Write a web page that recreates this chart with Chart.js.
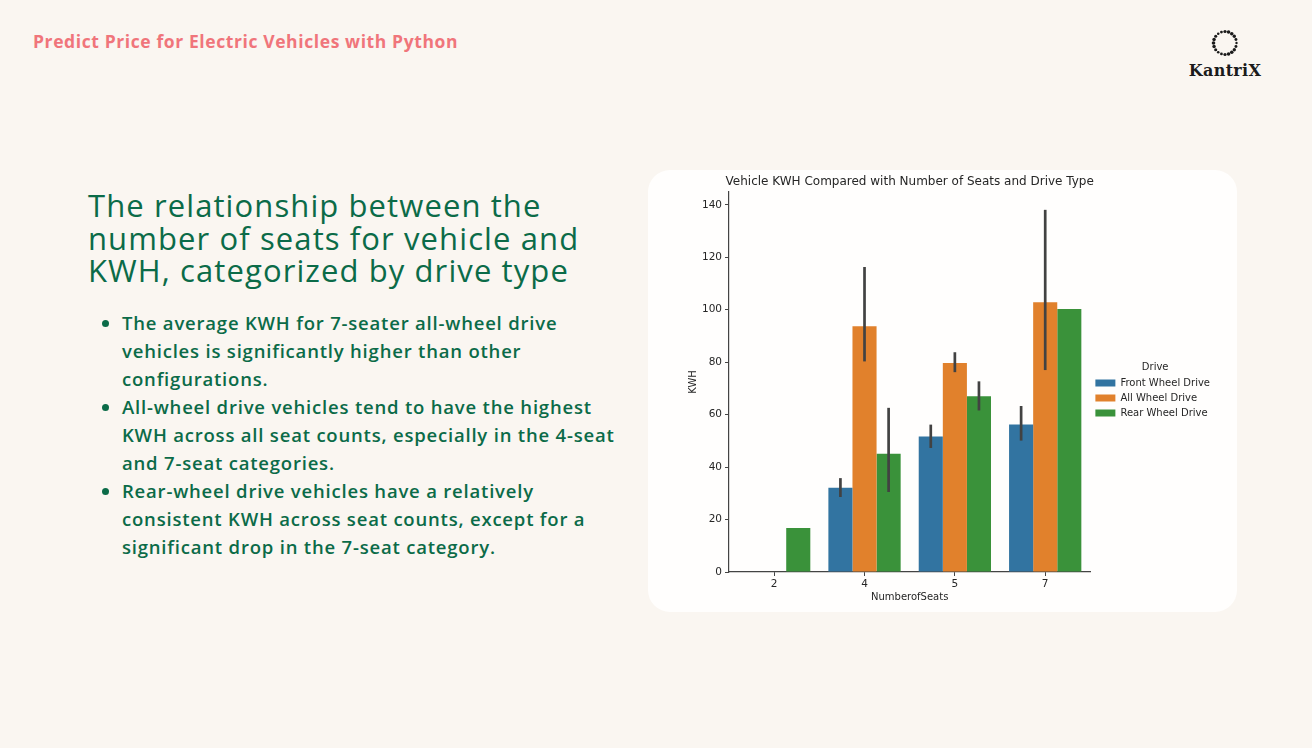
<!DOCTYPE html>
<html>
<head>
<meta charset="utf-8">
<script src="https://cdn.jsdelivr.net/npm/chart.js@4.4.1/dist/chart.umd.min.js"></script>
<style>
  html, body { margin: 0; padding: 0; }
  body { width: 1312px; height: 748px; background: #faf6f1; position: relative; overflow: hidden; font-family: "Open Sans", Lato, sans-serif; }
  #top_title { position: absolute; left: 33px; top: 29px; font-size: 17.5px; font-weight: 700; color: #f0757b; letter-spacing: 0.6px; }
  #logo { position: absolute; left: 1180px; top: 27px; width: 90px; text-align: center; }
  #logo svg { display: block; margin: 0 auto; }
  #logo .nombre { font-family: "DejaVu Serif", serif; font-weight: 700; font-size: 16px; color: #1b1b1b; margin-top: 2px; letter-spacing: 0.3px; }
  #titulo { position: absolute; left: 88px; top: 189px; font-size: 31px; line-height: 32.5px; color: #0b6b48; letter-spacing: 1.1px; margin: 0; font-weight: 400; white-space: nowrap; }
  #puntos { position: absolute; left: 100px; top: 309px; margin: 0; padding-left: 22px; font-size: 18.5px; line-height: 28px; color: #0b6b48; font-weight: 600; letter-spacing: 0.8px; white-space: nowrap; }
  #tarjeta { position: absolute; left: 648px; top: 170px; width: 589px; height: 442px; background: #fffefd; border-radius: 22px; }
  #chart_kwh { position: absolute; left: 0; top: 0; }
</style>
</head>
<body>
<div id="top_title">Predict Price for Electric Vehicles with Python</div>
<div id="logo">
  <svg id="logo_puntos" width="32" height="32" viewBox="0 0 32 32"></svg>
  <div class="nombre">KantriX</div>
</div>

<h1 id="titulo">The relationship between the<br>number of seats for vehicle and<br>KWH, categorized by drive type</h1>
<ul id="puntos">
  <li>The average KWH for 7-seater all-wheel drive<br>vehicles is significantly higher than other<br>configurations.</li>
  <li>All-wheel drive vehicles tend to have the highest<br>KWH across all seat counts, especially in the 4-seat<br>and 7-seat categories.</li>
  <li>Rear-wheel drive vehicles have a relatively<br>consistent KWH across seat counts, except for a<br>significant drop in the 7-seat category.</li>
</ul>

<div id="tarjeta">
  <canvas id="chart_kwh" width="589" height="442"></canvas>
</div>

<script>
// datos
const asientos = ["2", "4", "5", "7"];
const tiposTraccion = ["Front Wheel Drive", "All Wheel Drive", "Rear Wheel Drive"];
const coloresTraccion = ["#3274a1", "#e1812c", "#3a923a"];

const kwhDelantera = [null, 32.1, 51.7, 56.2];
const kwhTotal = [null, 93.7, 79.7, 102.9];
const kwhTrasera = [16.8, 45.1, 67.0, 100.3];

// intervalos de las barras de error
const bajoDelantera = [null, 28.6, 47.3, 50.1];
const altoDelantera = [null, 35.8, 56.2, 63.3];
const bajoTotal = [null, 80.3, 76.2, 77.0];
const altoTotal = [null, 116.3, 83.8, 138.1];
const bajoTrasera = [null, 30.5, 61.6, null];
const altoTrasera = [null, 62.6, 72.7, null];

const ticksKwh = [0, 20, 40, 60, 80, 100, 120, 140];

// logo: anillo de puntos
(function dibujarLogo() {
  let svg = document.getElementById("logo_puntos");
  let html = "";
  for (let i = 0; i < 20; i++) {
    let a = (i / 20) * Math.PI * 2;
    let r = 1.2 + 0.6 * Math.abs(Math.sin(a * 1.5));
    html += `<circle cx="${16 + 11.5 * Math.cos(a)}" cy="${16 + 11.5 * Math.sin(a)}" r="${r}" fill="#1b1b1b"/>`;
  }
  svg.innerHTML = html;
})();

const pluginBarrasError = {
  id: "barrasError",
  afterDatasetsDraw(chart) {
    let ctx = chart.ctx;
    let y = chart.scales.y;
    let bajos = [bajoDelantera, bajoTotal, bajoTrasera];
    let altos = [altoDelantera, altoTotal, altoTrasera];
    ctx.save();
    ctx.strokeStyle = "#424242";
    ctx.lineWidth = 2.7;
    bajos.forEach(function (lista, i) {
      let meta = chart.getDatasetMeta(i);
      lista.forEach(function (v, j) {
        if (v === null || altos[i][j] === null) return;
        let x = meta.data[j].x;
        ctx.beginPath();
        ctx.moveTo(x, y.getPixelForValue(v));
        ctx.lineTo(x, y.getPixelForValue(altos[i][j]));
        ctx.stroke();
      });
    });
    ctx.restore();
  },
};

const pluginTitulo = {
  id: "tituloGrafico",
  afterDraw(chart) {
    let ctx = chart.ctx;
    let area = chart.chartArea;
    ctx.save();
    ctx.fillStyle = "#262626";
    ctx.font = "12px 'DejaVu Sans'";
    ctx.textAlign = "center";
    ctx.textBaseline = "middle";
    ctx.fillText("Vehicle KWH Compared with Number of Seats and Drive Type", (area.left + area.right) / 2, 12);
    ctx.restore();
  },
};

const fuenteEje = { family: "'DejaVu Sans'", size: 10 };
const fuenteTicks = { family: "'DejaVu Sans'", size: 10.5 };

new Chart(document.getElementById("chart_kwh"), {
  type: "bar",
  data: {
    labels: asientos,
    datasets: [
      { label: tiposTraccion[0], data: kwhDelantera, backgroundColor: coloresTraccion[0] },
      { label: tiposTraccion[1], data: kwhTotal, backgroundColor: coloresTraccion[1] },
      { label: tiposTraccion[2], data: kwhTrasera, backgroundColor: coloresTraccion[2] },
    ],
  },
  options: {
    responsive: false,
    animation: false,
    layout: { padding: { top: 22, left: 35, bottom: 5, right: 17 } },
    datasets: { bar: { categoryPercentage: 0.8, barPercentage: 1.0 } },
    plugins: {
      legend: {
        position: "right",
        align: "start",
        title: { display: true, text: "Drive", color: "#262626", font: fuenteEje, padding: { top: 170, bottom: -1 } },
        labels: { boxWidth: 20, boxHeight: 7, padding: 5, color: "#262626", font: fuenteEje },
      },
      tooltip: { enabled: false },
    },
    scales: {
      x: {
        grid: { display: true, drawOnChartArea: false, offset: false, tickLength: 4, color: "#444" },
        border: { display: true, color: "#444", width: 1.2 },
        ticks: { color: "#262626", font: fuenteTicks, padding: 2 },
        title: { display: true, text: "NumberofSeats", color: "#262626", font: fuenteEje, padding: 4 },
        afterFit: function (s) { s.height = 35; },
      },
      y: {
        min: 0,
        max: 144.9,
        afterBuildTicks: function (s) { s.ticks = ticksKwh.map(function (v) { return { value: v }; }); },
        grid: { display: true, drawOnChartArea: false, tickLength: 4, color: "#444" },
        border: { display: true, color: "#444", width: 1.2 },
        ticks: { color: "#262626", font: fuenteTicks, padding: 3 },
        title: { display: true, text: "KWH", color: "#262626", font: fuenteEje, padding: 4 },
        afterFit: function (s) { s.width = 46; },
      },
    },
  },
  plugins: [pluginBarrasError, pluginTitulo],
});
</script>
</body>
</html>
